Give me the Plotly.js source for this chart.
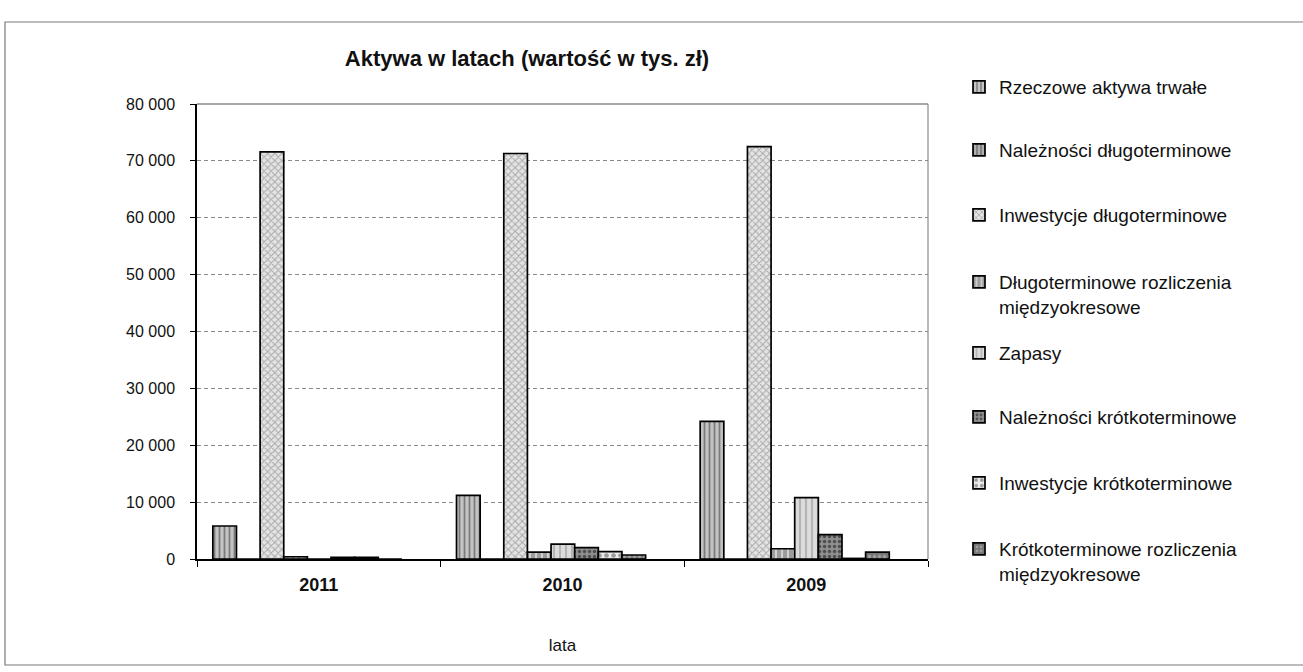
<!DOCTYPE html>
<html>
<head>
<meta charset="utf-8">
<script src="https://cdn.plot.ly/plotly-3.0.1.min.js"></script>
<style>
  html, body { margin: 0; padding: 0; background: #ffffff; }
  #chart { width: 1303px; height: 672px; }
</style>
</head>
<body>
<div id="chart"></div>
<script>
// ---- data (values in thousands of PLN) ----
const categories = ['2011', '2010', '2009'];
const seriesNames = [
  'Rzeczowe aktywa trwałe',
  'Należności długoterminowe',
  'Inwestycje długoterminowe',
  'Długoterminowe rozliczenia<br>międzyokresowe',
  'Zapasy',
  'Należności krótkoterminowe',
  'Inwestycje krótkoterminowe',
  'Krótkoterminowe rozliczenia<br>międzyokresowe'
];
const rzeczoweAktywa       = [5800, 11200, 24200];
const naleznosciDlugo      = [0, 0, 0];
const inwestycjeDlugo      = [71600, 71300, 72500];
const rozliczeniaDlugo     = [400, 1200, 1800];
const zapasy               = [0, 2600, 10800];
const naleznosciKrotko     = [300, 2000, 4300];
const inwestycjeKrotko     = [300, 1300, 100];
const rozliczeniaKrotko    = [0, 700, 1200];
const yTickValues = [0, 10000, 20000, 30000, 40000, 50000, 60000, 70000, 80000];

// ---- styling ----
const FONT = 'Liberation Sans, Arial, sans-serif';
const seriesValues = [rzeczoweAktywa, naleznosciDlugo, inwestycjeDlugo, rozliczeniaDlugo,
                      zapasy, naleznosciKrotko, inwestycjeKrotko, rozliczeniaKrotko];
const styles = [
  {bg: '#c4c4c4', fg: '#7a7a7a', shape: '|', size: 5},
  {bg: '#b0b0b0', fg: '#6e6e6e', shape: '|', size: 5},
  {bg: '#e4e4e4', fg: '#a8a8a8', shape: 'x', size: 5},
  {bg: '#9c9c9c', fg: '#d0d0d0', shape: '|', size: 6},
  {bg: '#dcdcdc', fg: '#b4b4b4', shape: '|', size: 6},
  {bg: '#8e8e8e', fg: '#4e4e4e', shape: '.', size: 5},
  {bg: '#ececec', fg: '#9a9a9a', shape: '.', size: 7},
  {bg: '#767676', fg: '#a0a0a0', shape: '.', size: 5}
];
// bar slot geometry inside each category (category units)
const SLOT_W = 0.097, SLOT_START = -0.435;
// legend first-line centre positions (px from top)
const legendY = [87, 150, 215, 282, 353, 417, 483, 549];

const W = 1303, H = 672;
const L = 197, R = 928, T = 104, B = 559;

const traces = seriesValues.map((vals, i) => ({
  type: 'bar',
  name: seriesNames[i],
  x: categories,
  y: vals,
  width: SLOT_W,
  offset: SLOT_START + i * SLOT_W,
  legend: i === 0 ? 'legend' : 'legend' + (i + 1),
  marker: {
    color: styles[i].bg,
    line: {color: '#000000', width: 1.7},
    pattern: {shape: styles[i].shape, fgcolor: styles[i].fg, bgcolor: styles[i].bg,
              size: styles[i].size, solidity: 0.35, fillmode: 'replace'}
  },
  hoverinfo: 'x+y+name'
}));

const layout = {
  width: W, height: H,
  paper_bgcolor: '#ffffff', plot_bgcolor: '#ffffff',
  font: {family: FONT, color: '#111111'},
  separators: ', ',
  margin: {l: L, r: W - R, t: T, b: H - B, pad: 0},
  barmode: 'group', bargap: 0.24, bargroupgap: 0,
  title: {
    text: '<b>Aktywa w latach (wartość w tys. zł)</b>',
    font: {family: FONT, size: 22, color: '#111111'},
    xref: 'container', yref: 'container',
    x: 527 / W, xanchor: 'center',
    y: 1 - 58 / H, yanchor: 'middle'
  },
  xaxis: {
    type: 'category',
    showline: true, linecolor: '#000000', linewidth: 1.5,
    ticks: 'outside', tickson: 'boundaries', ticklen: 6, tickcolor: '#000000', tickwidth: 1.2,
    tickfont: {family: FONT, size: 18, color: '#111111', weight: 'bold'},
    ticklabelstandoff: 9,
    showgrid: false, zeroline: false,
    title: {text: 'lata', font: {family: FONT, size: 17, color: '#111111'}, standoff: 45}
  },
  yaxis: {
    range: [0, 80000],
    tickvals: yTickValues,
    tickformat: ',d',
    showline: true, linecolor: '#000000', linewidth: 1.5,
    ticks: 'outside', ticklen: 5, tickcolor: '#000000',
    tickfont: {family: FONT, size: 16, color: '#111111'},
    ticklabelstandoff: 12,
    showgrid: true, gridcolor: '#8a8a8a', gridwidth: 1, griddash: '4px,3px',
    zeroline: false
  },
  shapes: [
    // plot area top and right border
    {type: 'line', xref: 'paper', yref: 'paper', x0: 0, x1: 1, y0: 1, y1: 1,
     line: {color: '#8a8a8a', width: 1.5}},
    {type: 'line', xref: 'paper', yref: 'paper', x0: 1, x1: 1, y0: 0, y1: 1,
     line: {color: '#8a8a8a', width: 1.2}},
    // outer chart frame
    {type: 'rect', xref: 'paper', yref: 'paper',
     x0: (5 - L) / (R - L), x1: (1312 - L) / (R - L),
     y0: (B - 665) / (B - T), y1: (B - 22) / (B - T),
     line: {color: '#7a7a7a', width: 1.2}, fillcolor: 'rgba(0,0,0,0)', layer: 'below'}
  ],
  showlegend: true
};

legendY.forEach((py, i) => {
  const key = i === 0 ? 'legend' : 'legend' + (i + 1);
  layout[key] = {
    x: 959 / W, xref: 'container', xanchor: 'left',
    y: 1 - (py - 19) / H, yref: 'container', yanchor: 'top',
    valign: 'top',
    bgcolor: 'rgba(0,0,0,0)', borderwidth: 0,
    font: {family: FONT, size: 19, color: '#111111'},
    itemclick: false, itemdoubleclick: false
  };
});

Plotly.newPlot('chart', traces, layout, {displayModeBar: false, responsive: false});
</script>
</body>
</html>
